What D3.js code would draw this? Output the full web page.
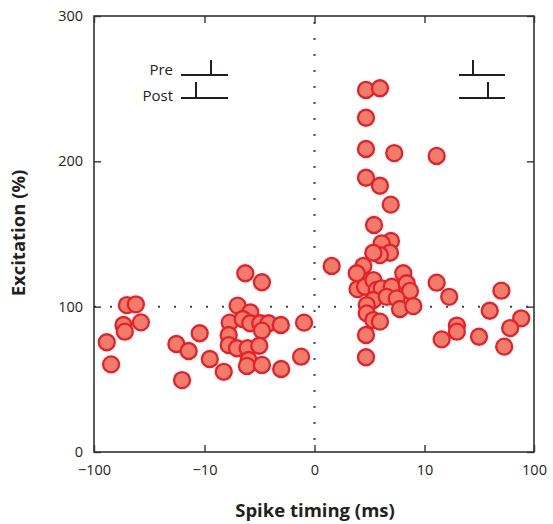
<!DOCTYPE html>
<html><head><meta charset="utf-8">
<script src="https://cdn.jsdelivr.net/npm/d3@7"></script>
<style>body{margin:0;background:#fff;} svg{display:block;}</style>
</head><body>
<svg id="chart" width="553" height="524"></svg>
<script>
// Spike timing (ms) and excitation (%) for each recorded synapse
const spikeTiming = [
  -89.6,-86.1,-73.2,-65.9,-76.0,-74.9,-61.8,-32.9,-22.9,-28.3,-13.9,
  -9.52,-8.25,-6.29,-4.78,-6.99,-7.71,-7.80,-7.80,-5.84,-6.53,-5.84,-4.93,-4.18,-3.06,-0.95,
  -4.78,-7.04,-6.08,-5.02,-5.99,-6.14,-4.78,-3.03,-1.22,
  1.56,4.68,5.95,4.68,4.68,7.25,20.0,4.68,5.95,6.93,5.41,6.95,6.11,6.86,5.95,5.35,4.44,3.84,8.07,
  3.91,4.59,5.35,5.65,6.11,7.02,8.38,8.68,20.0,30.3,5.35,6.56,7.47,7.77,8.98,4.75,4.75,5.35,5.95,
  4.68,4.68,73.2,63.6,89.5,80.4,36.6,36.6,24.1,54.8,75.5
];
const excitation = [
  75.5,60.3,101.1,101.6,87.4,82.8,89.2,74.3,69.5,49.5,81.7,
  64.0,55.2,123.0,116.8,100.7,89.0,80.5,73.6,96.1,91.5,88.6,88.6,88.6,87.4,89.0,
  83.5,71.4,71.4,73.1,63.3,59.2,59.9,57.1,65.6,
  128.0,249.1,250.3,230.0,208.5,205.7,203.7,188.7,183.2,170.2,156.2,145.2,143.6,137.1,135.5,137.1,128.0,123.0,123.0,
  112.1,113.7,118.3,111.5,112.6,113.7,116.1,110.8,116.5,106.8,104.6,106.8,105.7,98.4,100.4,101.1,95.4,90.8,89.7,
  80.5,65.2,111.0,97.2,92.0,85.3,87.0,82.8,77.5,79.3,72.5
];
const xTickValues = [-100,-10,0,10,100];
const xTickLabels = ["\u2212100","\u221210","0","10","100"];
const yTickValues = [0,100,200,300];
const xTitle = "Spike timing (ms)";
const yTitle = "Excitation (%)";
const legendLabels = ["Pre","Post"];

const svg = d3.select("#chart");
const L = 94, R = 534, T = 16, B = 452;
const x = d3.scaleLinear().domain([-100,-10,0,10,100]).range([L,204.5,314.5,424.5,R]);
const y = d3.scaleLinear().domain([0,300]).range([B,T]);
const axisColor = "#333";
const font = "'Open Sans','Noto Sans',sans-serif";

// reference dotted lines
svg.append("line").attr("x1",L).attr("x2",R).attr("y1",y(100)).attr("y2",y(100))
  .attr("stroke","#444").attr("stroke-width",2).attr("stroke-dasharray","2 14");
svg.append("line").attr("x1",x(0)).attr("x2",x(0)).attr("y1",T).attr("y2",B)
  .attr("stroke","#444").attr("stroke-width",2).attr("stroke-dasharray","2 14").attr("stroke-dashoffset",-6);

// frame
svg.append("rect").attr("x",L).attr("y",T).attr("width",R-L).attr("height",B-T)
  .attr("fill","none").attr("stroke",axisColor).attr("stroke-width",1.6);

// axes (inward ticks)
const styleAxis = g => { g.select(".domain").remove();
  g.selectAll(".tick line").attr("stroke",axisColor).attr("stroke-width",1.4);
  g.selectAll("text").attr("font-family",font).attr("font-size",14.5).attr("fill","#231f20"); };
svg.append("g").attr("transform",`translate(0,${B})`)
  .call(d3.axisBottom(x).tickValues(xTickValues).tickFormat((d,i)=>xTickLabels[i]).tickSizeInner(-7).tickPadding(13))
  .call(styleAxis);
svg.append("g").attr("transform",`translate(0,${T})`)
  .call(d3.axisTop(x).tickValues(xTickValues).tickFormat("").tickSizeInner(-7))
  .call(styleAxis);
svg.append("g").attr("transform",`translate(${L},0)`)
  .call(d3.axisLeft(y).tickValues(yTickValues).tickSizeInner(-7).tickPadding(11))
  .call(styleAxis);
svg.append("g").attr("transform",`translate(${R},0)`)
  .call(d3.axisRight(y).tickValues(yTickValues).tickFormat("").tickSizeInner(-7))
  .call(styleAxis);

// titles
svg.append("text").attr("x",315).attr("y",517).attr("text-anchor","middle")
  .attr("font-family",font).attr("font-weight","bold").attr("font-size",18.5).attr("fill","#231f20").text(xTitle);
svg.append("text").attr("transform","translate(25,233) rotate(-90)").attr("text-anchor","middle")
  .attr("font-family",font).attr("font-weight","bold").attr("font-size",18.5).attr("fill","#231f20").text(yTitle);

// points
svg.append("g").selectAll("circle").data(spikeTiming.map((d,i)=>[d,excitation[i]])).join("circle")
  .attr("cx",d=>x(d[0])).attr("cy",d=>y(d[1])).attr("r",8)
  .attr("fill","#f07c69").attr("stroke","#e8202a").attr("stroke-width",2.3);

// legend diagrams
const lg = svg.append("g").attr("stroke","#231f20").attr("stroke-width",2).attr("fill","none");
function diagram(x0, x1, preTick, postTick){
  lg.append("line").attr("x1",x0).attr("x2",x1).attr("y1",75).attr("y2",75);
  lg.append("line").attr("x1",preTick).attr("x2",preTick).attr("y1",60).attr("y2",75);
  lg.append("line").attr("x1",x0).attr("x2",x1).attr("y1",98).attr("y2",98);
  lg.append("line").attr("x1",postTick).attr("x2",postTick).attr("y1",82).attr("y2",98);
}
diagram(181,228,211,196);
diagram(459,505,473,488);
svg.append("text").attr("x",173).attr("y",75).attr("text-anchor","end").attr("font-family",font)
  .attr("font-size",15).attr("fill","#231f20").text(legendLabels[0]);
svg.append("text").attr("x",173).attr("y",101).attr("text-anchor","end").attr("font-family",font)
  .attr("font-size",15).attr("fill","#231f20").text(legendLabels[1]);
</script>
</body></html>
